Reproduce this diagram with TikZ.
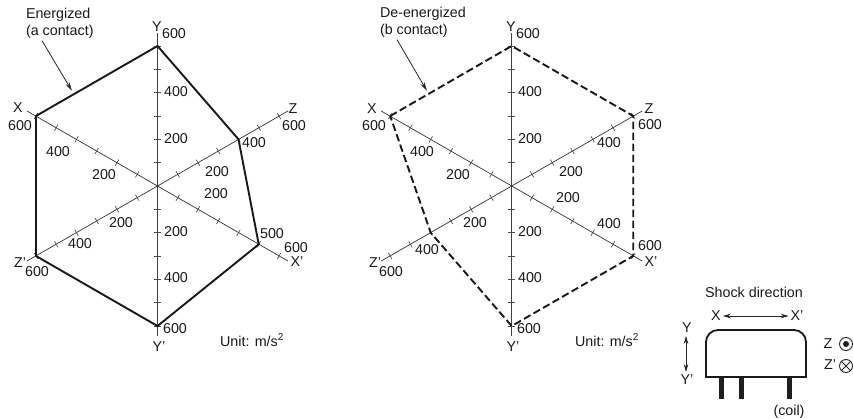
\documentclass[tikz,border=0pt]{standalone}
\usepackage{fontspec}
\setmainfont{Liberation Sans}
\usetikzlibrary{arrows.meta,calc}
\tikzset{
  lab/.style={inner sep=0pt,outer sep=0pt,font=\fontsize{14.3}{14.3}\selectfont,text=black!90},
  axisY/.style={line width=0.9pt,draw=black!75},
  axisD/.style={line width=0.7pt,draw=black!80},
  tick/.style={line width=0.7pt,draw=black!70},
  solidpoly/.style={line width=1.9pt,draw=black!90,line join=miter},
  dashpoly/.style={line width=1.9pt,draw=black!90,dash pattern=on 7.5pt off 3.5pt},
  lead/.style={line width=0.8pt,draw=black!85,-{Stealth[length=9pt,width=4.5pt]}},
  dbl/.style={line width=0.8pt,draw=black!85,{Stealth[length=8pt,width=4.5pt]}-{Stealth[length=8pt,width=4.5pt]}},
  pin/.style={line width=5pt,draw=black!88},
}
% prefix, centre x: named axis ends, points at every 100 units, and ticks
\newcommand{\radar}[2]{
  \coordinate (#1c) at (#2,186);
  \coordinate (#1Ya) at (#2,33);
  \coordinate (#1Yb) at (#2,336);
  \coordinate (#1Xa) at (#2-130.5,111);
  \coordinate (#1Xb) at (#2+130.5,261);
  \coordinate (#1Za) at (#2+130.5,111);
  \coordinate (#1Zb) at (#2-130.5,261);
  \draw[axisY] (#1Ya) -- (#1Yb);
  \draw[axisD] (#1Xa) -- (#1Xb);
  \draw[axisD] (#1Za) -- (#1Zb);
  \foreach \k in {1,...,6}{
    \coordinate (#1Y\k) at (#2,186-23.333*\k);
    \coordinate (#1y\k) at (#2,186+23.333*\k);
    \coordinate (#1X\k) at (#2-20.25*\k,186-11.667*\k);
    \coordinate (#1x\k) at (#2+20.25*\k,186+11.667*\k);
    \coordinate (#1Z\k) at (#2+20.25*\k,186-11.667*\k);
    \coordinate (#1z\k) at (#2-20.25*\k,186+11.667*\k);
    \draw[tick] ($(#1Y\k)+(-3.5,0)$) -- ($(#1Y\k)+(3.5,0)$);
    \draw[tick] ($(#1y\k)+(-3.5,0)$) -- ($(#1y\k)+(3.5,0)$);
    \draw[tick] ($(#1X\k)+(-1.75,3)$) -- ($(#1X\k)+(1.75,-3)$);
    \draw[tick] ($(#1x\k)+(-1.75,3)$) -- ($(#1x\k)+(1.75,-3)$);
    \draw[tick] ($(#1Z\k)+(-1.75,-3)$) -- ($(#1Z\k)+(1.75,3)$);
    \draw[tick] ($(#1z\k)+(-1.75,-3)$) -- ($(#1z\k)+(1.75,3)$);
  }
}
\begin{document}
\begin{tikzpicture}[x=1pt,y=-1pt]
\useasboundingbox (0,0) rectangle (853,419);
\radar{L}{157.5}
\radar{R}{511.7}
% polygons
\draw[solidpoly] (LX6) -- (LY6) -- (LZ4) -- (Lx5) -- (Ly6) -- (Lz6) -- cycle;
\draw[dashpoly] (RX6) -- (RY6) -- (RZ6) -- (Rx6) -- (Ry6) -- (Rz4) -- cycle;
% plain labels
\foreach \x/\y/\t [count=\i] in {
  157/27/Y,174/34/600,176/92/400,176/139/200,18/108/X,20/126/600,58/152/400,104/175/200,
  293/109/Z,294/126/600,254/143/400,217/172/200,216/194/200,121/223/200,80/244/400,
  20/263/Z',37/272/600,176/232/200,176/278/400,175/329/600,159/347/Y',272/234/500,
  296/248/600,297/262/X',
  511/27/Y,528/34/600,530/92/400,530/139/200,372/109/X,374/126/600,422/152/400,458/175/200,
  649/109/Z,650/125/600,609/143/400,571/172/200,568/198/200,475/223/200,427/250/400,
  375/263/Z',391/272/600,530/232/200,530/278/400,529/329/600,513/347/Y',609/224/400,
  650/246/600,651/262/X'}
  \node[lab] (t\i) at (\x,\y) {\t};
\node[lab] (ua) at (252,340) {Unit: m/s\textsuperscript{2}};
\node[lab] (ub) at (607,340) {Unit: m/s\textsuperscript{2}};
% callouts
\node[lab,anchor=west] (en1) at (26,15) {Energized};
\node[lab,anchor=west] (en2) at (26,32) {(a contact)};
\node[lab,anchor=west] (de1) at (380,14) {De-energized};
\node[lab,anchor=west] (de2) at (380,31) {(b contact)};
\coordinate (ena) at (72,91);
\coordinate (dea) at (427,91);
\draw[lead] (en2.south west)+(16,2) -- (ena);
\draw[lead] (de2.south west)+(17,2) -- (dea);
% relay
\node[lab] (sd) at (754,292) {Shock direction};
\node[lab] (sx) at (716,316) {X};
\node[lab] (sxp) at (797,316) {X'};
\node[lab] (sy) at (687,328) {Y};
\node[lab] (syp) at (687,380) {Y'};
\draw[dbl] (sx.east)+(2,0) -- ($(sxp.west)+(-2,0)$);
\draw[dbl] (sy.south)+(-1,3) -- ($(syp.north)+(-1,-3)$);
\draw[line width=1.8pt,draw=black!90] (706,377) [rounded corners=12pt] -- (706,330) -- (806,330) [sharp corners] -- (806,377) -- cycle;
\foreach \x in {721,741,789} \draw[pin] (\x,377) -- (\x,399);
\node[lab] (coil) at (789,412) {(coil)};
\node[lab] (sz) at (828,344) {Z};
\node[lab] (szp) at (830,365) {Z'};
\node[draw=black!85,line width=0.9pt,circle,minimum size=13pt,inner sep=0pt] (dot) at (846,344) {};
\fill[black!88] (dot.center) circle (3pt);
\node[draw=black!85,line width=0.9pt,circle,minimum size=13pt,inner sep=0pt] (crs) at (846,366) {};
\draw[line width=0.9pt,draw=black!85] (crs.north west) -- (crs.south east);
\draw[line width=0.9pt,draw=black!85] (crs.north east) -- (crs.south west);
\end{tikzpicture}
\end{document}
